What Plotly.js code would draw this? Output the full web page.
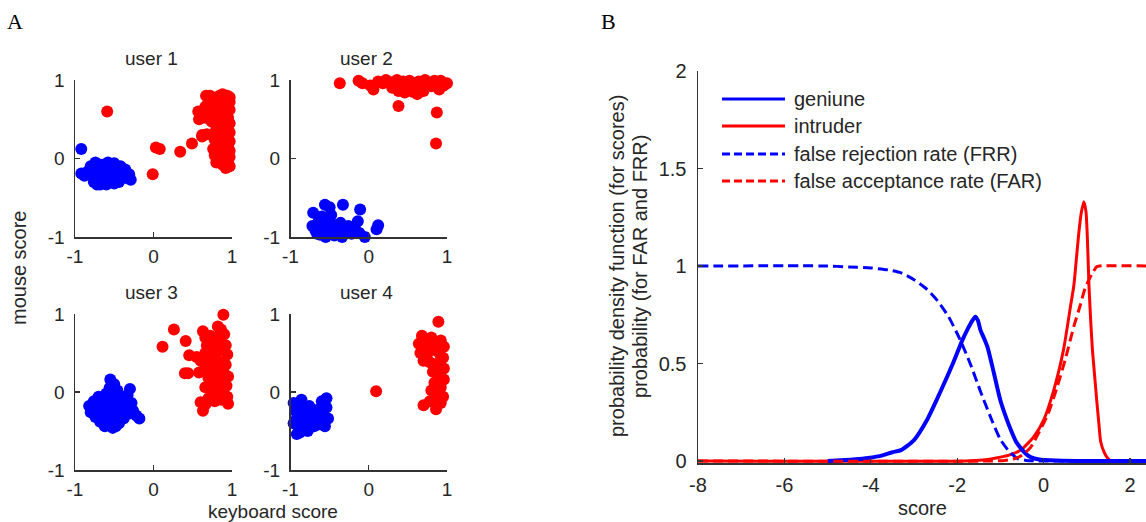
<!DOCTYPE html>
<html>
<head>
<meta charset="utf-8">
<script src="https://cdn.plot.ly/plotly-3.0.1.min.js"></script>
<style>html,body{margin:0;padding:0;background:#fff;}#chart{width:1146px;height:522px;}</style>
</head>
<body>
<div id="chart"></div>
<script>
// ---------------- DATA ----------------
// Panel A: keyboard score (x) vs mouse score (y)
const user1GenuineX = [-0.92,-0.92,-0.88,-0.84,-0.80,-0.78,-0.76,-0.74,-0.72,-0.70,-0.68,-0.66,-0.64,-0.62,-0.60,-0.58,-0.56,-0.54,-0.52,-0.50,-0.48,-0.46,-0.44,-0.42,-0.40,-0.36,-0.34,-0.31,-0.29,-0.72,-0.60,-0.50];
const user1GenuineY = [0.12,-0.19,-0.22,-0.17,-0.10,-0.22,-0.30,-0.05,-0.15,-0.26,-0.33,-0.08,-0.20,-0.28,-0.12,-0.05,-0.22,-0.30,-0.15,-0.06,-0.25,-0.18,-0.30,-0.10,-0.22,-0.14,-0.25,-0.20,-0.27,-0.33,-0.33,-0.32];
const user1IntruderX = [-0.59,0.03,0.08,-0.01,0.34,0.49,0.62,0.57,0.58,0.60,0.67,0.72,0.78,0.84,0.88,0.94,0.97,0.97,0.93,0.86,0.80,0.70,0.66,0.74,0.83,0.90,0.97,0.92,0.85,0.78,0.70,0.66,0.74,0.88,0.95,0.97,0.93,0.84,0.80,0.90,0.97,0.62,0.68,0.74,0.78,0.86,0.93,0.97,0.80,0.88,0.95,0.97,0.84,0.92,0.97,0.78,0.86,0.94,0.80,0.88,0.96,0.92,0.97,0.76];
const user1IntruderY = [0.60,0.14,0.12,-0.20,0.085,0.19,0.28,0.60,0.50,0.55,0.80,0.80,0.77,0.80,0.82,0.80,0.78,0.72,0.74,0.76,0.70,0.72,0.66,0.64,0.66,0.68,0.62,0.58,0.58,0.56,0.57,0.52,0.47,0.50,0.52,0.45,0.42,0.44,0.38,0.35,0.33,0.30,0.31,0.30,0.24,0.28,0.26,0.22,0.18,0.16,0.14,0.10,0.10,0.06,0.02,0.04,0.00,-0.04,-0.05,-0.08,-0.10,-0.12,-0.10,0.12];

const user2GenuineX = [-0.56,-0.50,-0.71,-0.33,-0.11,0.12,0.10,-0.05,-0.72,-0.68,-0.64,-0.62,-0.58,-0.55,-0.52,-0.50,-0.46,-0.44,-0.40,-0.36,-0.34,-0.30,-0.26,-0.22,-0.18,-0.14,-0.12,-0.48,-0.60,-0.66];
const user2GenuineY = [-0.59,-0.62,-0.69,-0.59,-0.65,-0.85,-0.90,-1.0,-0.86,-0.92,-0.80,-0.97,-0.88,-1.0,-0.78,-0.92,-0.84,-0.98,-0.90,-0.82,-1.0,-0.92,-0.86,-0.96,-0.88,-0.80,-0.95,-0.72,-0.74,-0.96];
const user2IntruderX = [-0.37,-0.13,-0.08,0.02,0.06,0.12,0.18,0.22,0.28,0.32,0.36,0.40,0.38,0.44,0.48,0.52,0.56,0.60,0.62,0.64,0.68,0.72,0.76,0.80,0.84,0.88,0.92,0.96,1.00,1.02,0.70,0.56,0.46,0.38,0.87,0.86,0.30,0.90];
const user2IntruderY = [0.96,0.99,0.96,0.93,0.88,0.98,0.96,1.00,0.97,0.92,1.00,0.95,0.86,0.98,0.92,0.99,0.95,0.90,0.82,0.98,0.93,1.00,0.96,0.92,0.99,0.95,0.99,0.93,0.96,0.90,0.86,0.85,0.84,0.67,0.585,0.19,0.90,0.88];

const user3GenuineX = [-0.55,-0.50,-0.56,-0.46,-0.30,-0.33,-0.18,-0.22,-0.82,-0.80,-0.76,-0.74,-0.72,-0.70,-0.68,-0.66,-0.64,-0.62,-0.60,-0.58,-0.56,-0.54,-0.52,-0.50,-0.48,-0.46,-0.44,-0.42,-0.40,-0.38,-0.36,-0.34,-0.32,-0.28,-0.26,-0.48,-0.58,-0.68];
const user3GenuineY = [0.16,0.10,0.05,0.02,0.04,-0.04,-0.34,-0.30,-0.18,-0.26,-0.12,-0.32,-0.22,-0.06,-0.38,-0.16,-0.28,-0.44,-0.02,-0.10,-0.22,-0.34,-0.46,-0.06,-0.16,-0.28,-0.40,-0.12,-0.22,-0.34,-0.06,-0.18,-0.28,-0.14,-0.24,-0.44,-0.42,-0.30];
const user3IntruderX = [0.115,0.26,0.41,0.455,0.40,0.44,0.58,0.55,0.60,0.89,0.82,0.86,0.63,0.63,0.60,0.95,0.66,0.72,0.78,0.90,0.68,0.76,0.84,0.92,0.66,0.72,0.80,0.88,0.94,0.70,0.78,0.86,0.92,0.66,0.74,0.82,0.90,0.95,0.70,0.78,0.86,0.93,0.66,0.74,0.82,0.90,0.70,0.78,0.86,0.66,0.94];
const user3IntruderY = [0.58,0.80,0.655,0.47,0.24,0.24,0.25,0.45,0.40,0.99,0.84,0.80,0.78,-0.24,-0.13,-0.15,0.70,0.72,0.70,0.74,0.60,0.62,0.64,0.60,0.50,0.52,0.50,0.54,0.48,0.40,0.42,0.38,0.35,0.30,0.30,0.26,0.24,0.20,0.18,0.14,0.12,0.08,0.06,0.02,0.00,-0.04,-0.08,-0.12,-0.10,-0.16,-0.06];

const user4GenuineX = [-0.96,-0.94,-0.92,-0.90,-0.88,-0.86,-0.84,-0.82,-0.80,-0.78,-0.76,-0.74,-0.72,-0.70,-0.68,-0.64,-0.62,-0.60,-0.58,-0.56,-0.54,-0.54,-0.52,-0.96,-0.92,-0.66];
const user4GenuineY = [-0.14,-0.24,-0.34,-0.44,-0.52,-0.10,-0.20,-0.30,-0.40,-0.50,-0.18,-0.28,-0.38,-0.44,-0.32,-0.22,-0.36,-0.12,-0.28,-0.44,-0.08,-0.20,-0.34,-0.40,-0.54,-0.42];
const user4IntruderX = [0.094,0.89,0.68,0.72,0.64,0.70,0.66,0.74,0.70,0.80,0.86,0.92,0.96,0.82,0.90,0.95,0.78,0.86,0.93,0.82,0.90,0.96,0.84,0.92,0.80,0.88,0.95,0.84,0.92,0.86,0.70,0.78,0.96,0.76];
const user4IntruderY = [0.01,0.90,0.72,0.66,0.62,0.56,0.50,0.46,0.40,0.70,0.62,0.66,0.58,0.54,0.50,0.44,0.38,0.36,0.30,0.26,0.20,0.16,0.12,0.06,0.02,-0.02,-0.06,-0.10,-0.14,-0.22,-0.17,-0.12,0.30,0.56];

// Panel B: score distributions
const genuineX = [-5.0,-4.6,-4.2,-3.8,-3.5,-3.3,-3.0,-2.7,-2.4,-2.1,-1.88,-1.75,-1.65,-1.58,-1.52,-1.46,-1.38,-1.30,-1.15,-1.0,-0.88,-0.76,-0.64,-0.53,-0.4,-0.3,-0.1,0.3,1.0,2.4];
const genuineY = [0.0,0.005,0.012,0.025,0.045,0.056,0.107,0.21,0.35,0.50,0.62,0.68,0.72,0.74,0.72,0.67,0.63,0.585,0.45,0.31,0.23,0.16,0.10,0.066,0.035,0.02,0.008,0.003,0.0,0.0];
const intruderX = [-8,-1.8,-1.4,-1.1,-0.8,-0.53,-0.23,0.0,0.23,0.46,0.62,0.70,0.76,0.81,0.87,0.93,0.98,1.01,1.05,1.09,1.13,1.18,1.23,1.28,1.32,1.40,1.48,1.56,2.4];
const intruderY = [0,0,0.005,0.015,0.03,0.056,0.124,0.21,0.36,0.57,0.79,0.90,1.04,1.16,1.27,1.33,1.28,1.16,0.90,0.72,0.57,0.44,0.31,0.19,0.10,0.045,0.015,0,0];
const frrX = [-8,-5,-4.5,-4.0,-3.6,-3.3,-3.0,-2.7,-2.45,-2.2,-1.95,-1.7,-1.45,-1.2,-1.0,-0.8,-0.6,-0.4,0,1,2.4];
const frrY = [1,1,0.995,0.99,0.98,0.965,0.93,0.88,0.82,0.74,0.63,0.50,0.35,0.21,0.11,0.05,0.012,0.003,0,0,0];
const farX = [-8,-1.2,-0.9,-0.7,-0.5,-0.3,-0.1,0.1,0.3,0.5,0.7,0.85,0.95,1.05,1.15,1.22,1.3,2.4];
const farY = [0,0,0.003,0.01,0.03,0.07,0.15,0.24,0.37,0.52,0.69,0.80,0.88,0.93,0.97,0.995,1.0,1.0];

const userTitles = ['user 1','user 2','user 3','user 4'];
const legendNames = ['geniune','intruder','false rejection rate (FRR)','false acceptance rate (FAR)'];
const panelTickVals = [-1,0,1];
const scoreTicks = [-8,-6,-4,-2,0,2];
const probTicks = [0,0.5,1,1.5,2];
const probTickText = ['0','0.5','1','1.5','2'];

// ---------------- LAYOUT HELPERS ----------------
const W = 1146, H = 522;
const fx = p => p / W;
const fy = p => 1 - p / H;
const BLUE = '#0000ff', RED = '#ff0000';
const AXC = '#333333', TXT = '#262626';
const FONT = 'Liberation Sans, Arial, sans-serif';

const users = [
  {gx:user1GenuineX, gy:user1GenuineY, ix:user1IntruderX, iy:user1IntruderY},
  {gx:user2GenuineX, gy:user2GenuineY, ix:user2IntruderX, iy:user2IntruderY},
  {gx:user3GenuineX, gy:user3GenuineY, ix:user3IntruderX, iy:user3IntruderY},
  {gx:user4GenuineX, gy:user4GenuineY, ix:user4IntruderX, iy:user4IntruderY}
];
const boxes = [
  {x0:75, x1:232, y0:80, y1:237},
  {x0:290.5, x1:447, y0:80, y1:237},
  {x0:75, x1:232, y0:314, y1:470},
  {x0:290.5, x1:447, y0:314, y1:470}
];

const traces = [];
const layout = {
  width: W, height: H,
  margin: {l:0, r:0, t:0, b:0},
  paper_bgcolor: '#ffffff', plot_bgcolor: 'rgba(0,0,0,0)',
  showlegend: false,
  font: {family: FONT, size: 19, color: TXT},
  annotations: [], shapes: []
};

function axisStyle(extra) {
  return Object.assign({
    showline: true, linecolor: AXC, linewidth: 1.5,
    ticks: 'inside', ticklen: 5, tickwidth: 1.2, tickcolor: AXC,
    showgrid: false, zeroline: false, mirror: false,
    tickfont: {family: FONT, size: 19, color: TXT},
    fixedrange: true
  }, extra);
}

users.forEach((u, i) => {
  const n = i + 1;
  const xa = n === 1 ? 'x' : 'x' + n;
  const ya = n === 1 ? 'y' : 'y' + n;
  const b = boxes[i];
  traces.push({x: u.gx, y: u.gy, xaxis: xa, yaxis: ya, type: 'scatter', mode: 'markers',
    marker: {color: BLUE, size: 12, line: {width: 0}}, cliponaxis: false, hoverinfo: 'skip'});
  traces.push({x: u.ix, y: u.iy, xaxis: xa, yaxis: ya, type: 'scatter', mode: 'markers',
    marker: {color: RED, size: 12, line: {width: 0}}, cliponaxis: false, hoverinfo: 'skip'});
  layout['xaxis' + (n === 1 ? '' : n)] = axisStyle({
    domain: [fx(b.x0), fx(b.x1)], range: [-1, 1], anchor: ya,
    tickmode: 'array', tickvals: panelTickVals, ticktext: panelTickVals.map(String),
    ticklabelstandoff: 2
  });
  layout['yaxis' + (n === 1 ? '' : n)] = axisStyle({
    domain: [fy(b.y1), fy(b.y0)], range: [-1, 1], anchor: xa,
    tickmode: 'array', tickvals: panelTickVals, ticktext: panelTickVals.map(String),
    ticklabelstandoff: 5
  });
  layout.annotations.push({text: userTitles[i], xref: 'paper', yref: 'paper',
    x: fx((b.x0 + b.x1) / 2 - 2), y: fy(59 + (i >= 2 ? 233 : 0)), xanchor: 'center', yanchor: 'middle',
    showarrow: false, font: {family: FONT, size: 19, color: TXT}});
});

// Panel B axes
const bTop = 71, bZero = 461, pxPerUnitY = (461 - 71) / 2, yPad = 0.012;
const bBottom = bZero + yPad * pxPerUnitY;
layout.xaxis5 = axisStyle({
  domain: [fx(698), 1], range: [-8, 2.37], anchor: 'y5',
  tickmode: 'array', tickvals: scoreTicks, ticktext: scoreTicks.map(String),
  tickfont: {family: FONT, size: 20, color: TXT}, ticklabelstandoff: 3
});
layout.yaxis5 = axisStyle({
  domain: [fy(bBottom), fy(bTop)], range: [-yPad, 2], anchor: 'x5',
  tickmode: 'array', tickvals: probTicks, ticktext: probTickText,
  tickfont: {family: FONT, size: 20, color: TXT}, ticklabelstandoff: 6
});

const bStyles = [
  {x: intruderX, y: intruderY, color: RED, dash: 'solid', w: 3, name: legendNames[1]},
  {x: genuineX, y: genuineY, color: BLUE, dash: 'solid', w: 4, name: legendNames[0]},
  {x: frrX, y: frrY, color: BLUE, dash: '10px,5px', w: 3, name: legendNames[2]},
  {x: farX, y: farY, color: RED, dash: '10px,5px', w: 3, name: legendNames[3]}
];
bStyles.forEach(s => traces.push({
  x: s.x, y: s.y, xaxis: 'x5', yaxis: 'y5', type: 'scatter', mode: 'lines', name: s.name,
  line: {color: s.color, width: s.w, dash: s.dash, shape: 'spline', smoothing: 0.6}, hoverinfo: 'skip'
}));

// Legend for panel B (drawn in paper space)
const legRows = [99, 126, 154, 181];
const legStyles = [
  {color: BLUE, dash: 'solid'}, {color: RED, dash: 'solid'},
  {color: BLUE, dash: '8px,4px'}, {color: RED, dash: '8px,4px'}
];
legRows.forEach((ry, i) => {
  layout.shapes.push({type: 'line', xref: 'paper', yref: 'paper',
    x0: fx(722), x1: fx(785), y0: fy(ry), y1: fy(ry),
    line: {color: legStyles[i].color, width: 3, dash: legStyles[i].dash}});
  layout.annotations.push({text: legendNames[i], xref: 'paper', yref: 'paper',
    x: fx(792), y: fy(ry), xanchor: 'left', yanchor: 'middle', showarrow: false,
    font: {family: FONT, size: 20, color: TXT}});
});

// Other labels
const ann = (text, x, y, opts) => layout.annotations.push(Object.assign({
  text, xref: 'paper', yref: 'paper', x: fx(x), y: fy(y),
  xanchor: 'center', yanchor: 'middle', showarrow: false,
  font: {family: FONT, size: 20, color: TXT}
}, opts || {}));
ann('A', 15, 21, {font: {family: 'Liberation Serif, DejaVu Serif, serif', size: 22, color: '#000'}});
ann('B', 608, 21, {font: {family: 'Liberation Serif, DejaVu Serif, serif', size: 22, color: '#000'}});
ann('mouse score', 19, 268, {textangle: -90});
ann('keyboard score', 273, 511, {font: {family: FONT, size: 19, color: TXT}});
ann('probability density function (for scores)', 617, 266, {textangle: -90});
ann('probability (for FAR and FRR)', 640, 267, {textangle: -90});
ann('score', 922, 508);

Plotly.newPlot('chart', traces, layout, {staticPlot: true, displayModeBar: false});
</script>
</body>
</html>
